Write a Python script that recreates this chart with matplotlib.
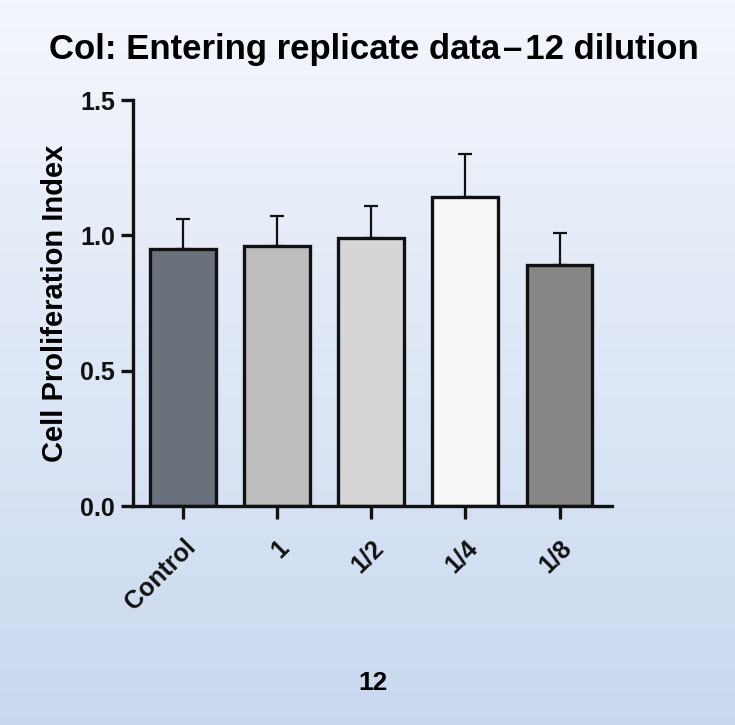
import numpy as np
import matplotlib
matplotlib.use("Agg")
import matplotlib.pyplot as plt

# data
groups = ['Control', '1', '1/2', '1/4', '1/8']
means = [0.95, 0.96, 0.99, 1.14, 0.89]
sem = [0.11, 0.11, 0.12, 0.16, 0.12]
bar_colors = ['#6b717c', '#bdbdbd', '#d6d6d6', '#f8f8f8', '#868686']

plt.rcParams['font.family'] = ['Liberation Sans', 'DejaVu Sans']
plt.rcParams['font.weight'] = 'bold'

fig = plt.figure(figsize=(7.35, 7.25), dpi=100)

# gradient background over the whole figure
bg = fig.add_axes([0, 0, 1, 1], zorder=-10)
grad = np.linspace(0, 1, 256).reshape(-1, 1)
top = np.array([0.955, 0.965, 0.99])
bot = np.array([0.79, 0.85, 0.94])
img = top + (bot - top) * grad[:, :, None]
bg.imshow(img, aspect='auto', extent=[0, 1, 0, 1])
bg.axis('off')

ax = fig.add_axes([0.181, 0.302, 0.652, 0.560])
ax.patch.set_alpha(0)
x = np.arange(len(groups))

ax.errorbar(x, means, yerr=[np.zeros(len(sem)), sem], fmt='none',
            ecolor='#111111', elinewidth=1.6, capsize=5, capthick=1.6, zorder=1)
ax.bar(x, means, width=0.7, color=bar_colors, edgecolor='#111111',
       linewidth=2.4, zorder=2)

ax.set_xlim(-0.53, 4.56)
ax.set_ylim(0, 1.5)
ax.set_yticks([0, 0.5, 1.0, 1.5])
ax.set_yticklabels(['0.0', '0.5', '1.0', '1.5'])
ax.set_xticks(x)
ax.set_xticklabels(groups, rotation=45, ha='right', rotation_mode='anchor')

for s in ['top', 'right']:
    ax.spines[s].set_visible(False)
for s in ['left', 'bottom']:
    ax.spines[s].set_linewidth(2.4)
    ax.spines[s].set_color('#111111')
ax.tick_params(axis='both', length=9, width=2.4, colors='#111111',
               labelsize=18, pad=4)
ax.tick_params(axis='x', pad=12)

ax.set_ylabel('Cell Proliferation Index', fontsize=21, fontweight='bold', labelpad=8)
ax.set_xlabel('12', fontsize=19, fontweight='bold', labelpad=40)
fig.suptitle('Col: Entering replicate data\u200a\u2013\u200a12 dilution', x=0.508, y=0.955,
             fontsize=25, fontweight='bold')

fig.savefig('out.png', dpi=100)
